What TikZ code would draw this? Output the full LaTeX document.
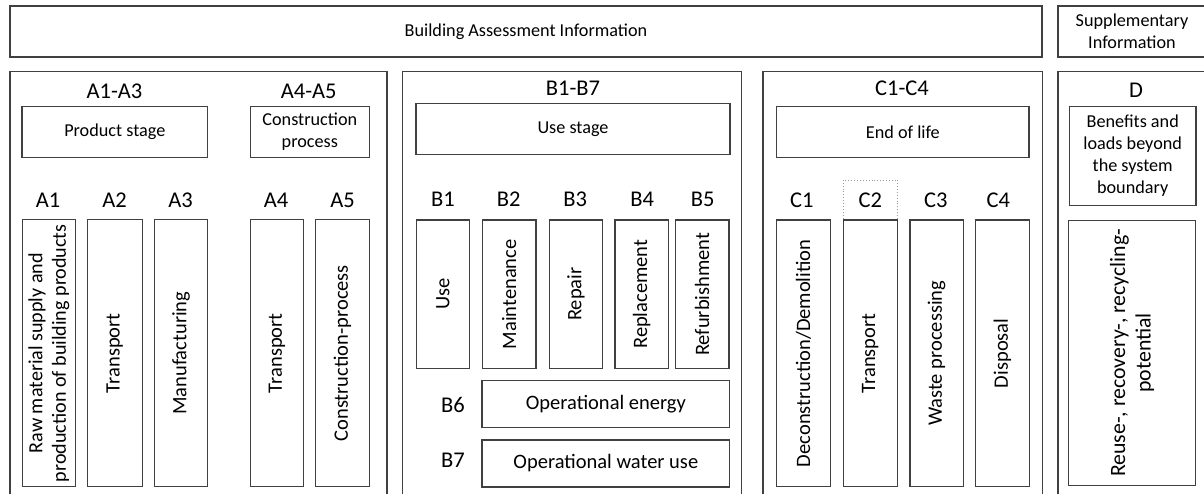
\documentclass[tikz,border=0pt]{standalone}
\usepackage{fontspec}
\setmainfont{Carlito}
\usetikzlibrary{positioning}

\begin{document}
\begin{tikzpicture}[x=1pt, y=-1pt,
		frame/.style={rectangle, draw=black!75, line width=1.2pt, inner sep=0pt},
		headbox/.style={frame, align=center, minimum height=51pt, font=\fontsize{18.2}{22}\selectfont},
		panel/.style={frame, minimum height=439pt},
		stagebox/.style={frame, align=center, minimum height=51.4pt, font=\fontsize{18.2}{22}\selectfont},
		modlabel/.style={inner sep=0pt, font=\fontsize{22.5}{27}\selectfont},
		modbox/.style={frame, rotate=90, align=center, minimum height=53.5pt, font=\fontsize{20.5}{24.5}\selectfont},
		widebox/.style={frame, minimum width=247.7pt, minimum height=47pt, font=\fontsize{20.5}{24.5}\selectfont},
	]

	\useasboundingbox (0,0) rectangle (1204,494);
	\clip (0,0) rectangle (1204,494);

	% top row
	\node[headbox, minimum width=1032pt] (bai)  at (526,31.5)  {Building Assessment Information};
	\node[headbox, minimum width=148pt]  (supp) at (1132,31.5) {Supplementary\\Information};

	% panels run past the lower edge
	\node[panel, minimum width=377pt]   (panA) at (198.5,291)  {};
	\node[panel, minimum width=339pt]   (panB) at (571.8,291)  {};
	\node[panel, minimum width=279.7pt] (panC) at (902.85,291) {};
	\node[panel, minimum width=148pt]   (panD) at (1132,291)   {};

	% stage headings
	\node[modlabel] (lA13) at (114.5,91) {A1-A3};
	\node[modlabel] (lA45) at (308.7,91) {A4-A5};
	\node[modlabel] (lB17) at (573,88)   {B1-B7};
	\node[modlabel] (lC14) at (902,88)   {C1-C4};
	\node[modlabel] (lD)   at (1136,90)  {D};

	\node[stagebox, minimum width=185.7pt] (prod) at (114.8,132)  {Product stage};
	\node[stagebox, minimum width=119pt]   (cons) at (309.8,132)  {Construction\\process};
	\node[stagebox, minimum width=314pt]   (use)  at (573,129.2)  {Use stage};
	\node[stagebox, minimum width=252.3pt] (eol)  at (902.85,132) {End of life};
	\node[stagebox, minimum width=126.7pt, minimum height=99.4pt] (beyond) at (1132.7,156)
		{Benefits and\\loads beyond\\the system\\boundary};

	% module codes
	\node[modlabel] (lA1) at (48,200)    {A1};
	\node[modlabel] (lA2) at (114.5,200) {A2};
	\node[modlabel] (lA3) at (180.5,200) {A3};
	\node[modlabel] (lA4) at (276,200)   {A4};
	\node[modlabel] (lA5) at (342.5,200) {A5};
	\node[modlabel] (lB1) at (443,199)   {B1};
	\node[modlabel] (lB2) at (508.7,199) {B2};
	\node[modlabel] (lB3) at (575.3,199) {B3};
	\node[modlabel] (lB4) at (642.3,199) {B4};
	\node[modlabel] (lB5) at (702.8,199) {B5};
	\node[modlabel] (lB6) at (453,404.5) {B6};
	\node[modlabel] (lB7) at (453,460)   {B7};
	\node[modlabel] (lC1) at (801.7,200) {C1};
	\node[modlabel, draw=black!40, dotted, line width=0.9pt, minimum width=54pt, minimum height=40pt] (lC2) at (870.3,200) {C2};
	\node[modlabel] (lC3) at (935.7,200) {C3};
	\node[modlabel] (lC4) at (998.3,200) {C4};

	% module boxes, text read upwards
	\node[modbox, minimum width=267pt, font=\fontsize{20.1}{23.5}\selectfont] (a1) at (48.85,353.2)
		{Raw material supply and\\production of building products};
	\node[modbox, minimum width=267pt, minimum height=55pt] (a2) at (114.8,353.2) {Transport};
	\node[modbox, minimum width=267pt] (a3) at (181,353.2)   {Manufacturing};
	\node[modbox, minimum width=267pt] (a4) at (277,353.2)   {Transport};
	\node[modbox, minimum width=267pt] (a5) at (342.5,353.2) {Construction-process};

	\node[modbox, minimum width=148.3pt] (b1) at (442.85,294.2) {Use};
	\node[modbox, minimum width=148.3pt] (b2) at (509.15,294.2) {Maintenance};
	\node[modbox, minimum width=148.3pt] (b3) at (576,294.2)    {Repair};
	\node[modbox, minimum width=148.3pt] (b4) at (641.65,294.2) {Replacement};
	\node[modbox, minimum width=148.3pt] (b5) at (702.15,294.2) {Refurbishment};
	\node[widebox] (b6) at (605.85,403.8) {Operational energy};
	\node[widebox] (b7) at (605.85,463.5) {Operational water use};

	\node[modbox, minimum width=266.7pt] (c1) at (803.5,353.3)  {Deconstruction/Demolition};
	\node[modbox, minimum width=266.7pt, minimum height=54pt] (c2) at (870.3,353.3) {Transport};
	\node[modbox, minimum width=266.7pt] (c3) at (936.65,353.3) {Waste processing};
	\node[modbox, minimum width=266.7pt] (c4) at (1002.35,353.3) {Disposal};

	\node[modbox, minimum width=265.7pt, minimum height=126.6pt, font=\fontsize{21.8}{25.5}\selectfont] (d) at (1132,353)
		{Reuse-, recovery-, recycling-\\potential};

\end{tikzpicture}
\end{document}
